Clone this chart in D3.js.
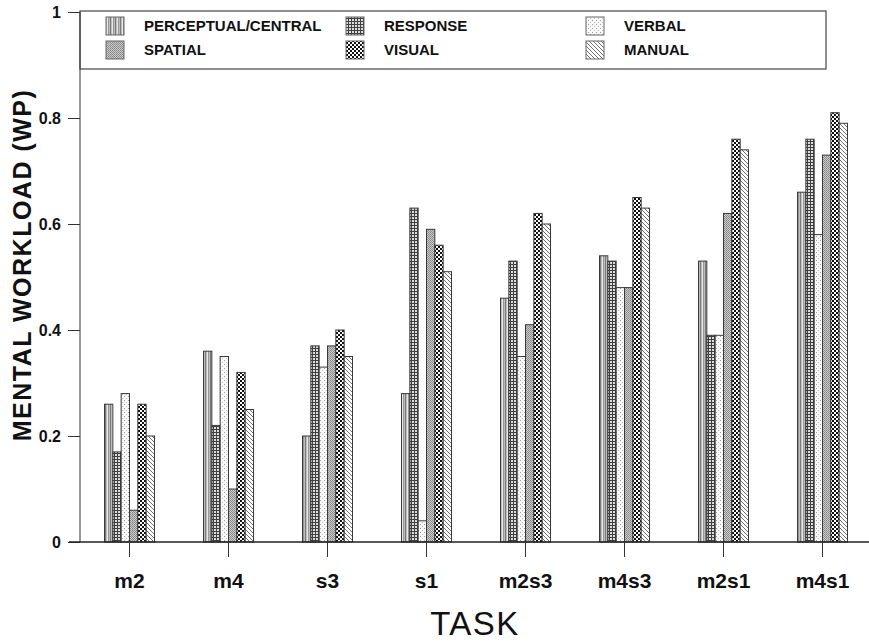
<!DOCTYPE html>
<html><head><meta charset="utf-8">
<script src="https://cdn.jsdelivr.net/npm/d3@7"></script>
<style>body{margin:0;background:#fff}svg{display:block}text{font-family:"Liberation Sans",Arial,sans-serif}</style>
</head><body><svg id="c" width="869" height="644"></svg>
<script>
const tasks = ["m2","m4","s3","s1","m2s3","m4s3","m2s1","m4s1"];
const seriesNames = ["PERCEPTUAL/CENTRAL","RESPONSE","VERBAL","SPATIAL","VISUAL","MANUAL"];
const perceptual = [0.26,0.36,0.20,0.28,0.46,0.54,0.53,0.66];
const response   = [0.17,0.22,0.37,0.63,0.53,0.53,0.39,0.76];
const verbal     = [0.28,0.35,0.33,0.04,0.35,0.48,0.39,0.58];
const spatial    = [0.06,0.10,0.37,0.59,0.41,0.48,0.62,0.73];
const visual     = [0.26,0.32,0.40,0.56,0.62,0.65,0.76,0.81];
const manual     = [0.20,0.25,0.35,0.51,0.60,0.63,0.74,0.79];
const yTicks = [0,0.2,0.4,0.6,0.8,1];
const yTickLabels = ["0","0.2","0.4","0.6","0.8","1"];
const values = [perceptual,response,verbal,spatial,visual,manual];

const svg = d3.select("#c");
const defs = svg.append("defs");
const patIds = ["pPer","pRes","pVer","pSpa","pVis","pMan"];
function pat(id,w,h){return defs.append("pattern").attr("id",id).attr("patternUnits","userSpaceOnUse").attr("width",w).attr("height",h);}
// perceptual: vertical stripes
let p = pat("pPer",5,5);
p.append("rect").attr("width",5).attr("height",5).attr("fill","#bdbdbd");
p.append("rect").attr("x",0).attr("width",1).attr("height",5).attr("fill","#7a7a7a");
p.append("rect").attr("x",2).attr("width",1).attr("height",5).attr("fill","#e8e8e8");
p.append("rect").attr("x",3).attr("width",1).attr("height",5).attr("fill","#969696");
// response: grid
p = pat("pRes",3,3);
p.append("rect").attr("width",3).attr("height",3).attr("fill","#dcdcdc");
p.append("rect").attr("width",1).attr("height",3).attr("fill","#404040");
p.append("rect").attr("width",3).attr("height",1).attr("fill","#404040");
// verbal: dots
p = pat("pVer",4,4);
p.append("rect").attr("width",4).attr("height",4).attr("fill","#f8f8f8");
p.append("rect").attr("x",0).attr("y",0).attr("width",1).attr("height",1).attr("fill","#a0a0a0");
p.append("rect").attr("x",2).attr("y",2).attr("width",1).attr("height",1).attr("fill","#c0c0c0");
// spatial: fine checker gray
p = pat("pSpa",2,2);
p.append("rect").attr("width",2).attr("height",2).attr("fill","#c8c8c8");
p.append("rect").attr("width",1).attr("height",1).attr("fill","#888");
p.append("rect").attr("x",1).attr("y",1).attr("width",1).attr("height",1).attr("fill","#949494");
// visual: black/white checker
p = pat("pVis",4,4);
p.append("rect").attr("width",4).attr("height",4).attr("fill","#fff");
p.append("rect").attr("width",2).attr("height",2).attr("fill","#111");
p.append("rect").attr("x",2).attr("y",2).attr("width",2).attr("height",2).attr("fill","#111");
// manual: diagonal lines
p = pat("pMan",4,4);
p.append("rect").attr("width",4).attr("height",4).attr("fill","#fff");
p.append("path").attr("d","M0,0L4,4M-1,3L1,5M3,-1L5,1").attr("stroke","#707070").attr("stroke-width",1);

const x0 = d3.scaleBand().domain(tasks).range([80,872]).padding(0);
const x1 = d3.scaleBand().domain(seriesNames).range([-25,25]).padding(0);
const y = d3.scaleLinear().domain([0,1]).range([542,12]);

// bars
const g = svg.append("g");
tasks.forEach((t,i)=>{
  const cx = x0(t)+x0.bandwidth()/2;
  seriesNames.forEach((s,j)=>{
    const v = values[j][i];
    g.append("rect")
      .attr("x",cx+x1(s)).attr("y",y(v))
      .attr("width",x1.bandwidth()).attr("height",y(0)-y(v))
      .attr("fill",`url(#${patIds[j]})`).attr("stroke","#3a3a3a").attr("stroke-width",1);
  });
});

// legend box
svg.append("rect").attr("x",80).attr("y",y(1)-1).attr("width",746).attr("height",58)
  .attr("fill","none").attr("stroke","#444").attr("stroke-width",1.2);
const legPos = [[106,17],[346,17],[586,17],[106,41],[346,41],[586,41]];
seriesNames.forEach((s,j)=>{
  const [lx,ly] = legPos[j];
  svg.append("rect").attr("x",lx).attr("y",ly).attr("width",18).attr("height",18)
    .attr("fill",`url(#${patIds[j]})`).attr("stroke","#666").attr("stroke-width",1);
  svg.append("text").attr("x",lx+38).attr("y",ly+14).attr("font-size",15).attr("font-weight","bold")
    .attr("fill","#111").text(s);
});

// y axis
const yAxis = d3.axisLeft(y).tickValues(yTicks).tickFormat((d,i)=>yTickLabels[i]).tickSize(12).tickPadding(7);
const ya = svg.append("g").attr("transform","translate(80,0)").call(yAxis);
ya.select(".domain").attr("stroke","#333").attr("d","M0,12V542");
ya.selectAll(".tick line").attr("stroke","#333");
ya.selectAll("text").attr("font-size",16).attr("font-weight","bold").attr("fill","#111").attr("font-family","Liberation Sans, Arial, sans-serif");

// x axis
const xAxis = d3.axisBottom(x0).tickSize(15).tickPadding(16);
const xa = svg.append("g").attr("transform","translate(0,542)").call(xAxis);
xa.select(".domain").attr("stroke","#222").attr("stroke-width",1.3).attr("d","M69,0H869");
xa.selectAll(".tick line").attr("stroke","#333");
xa.selectAll("text").attr("font-size",21).attr("font-weight","bold").attr("fill","#111").attr("font-family","Liberation Sans, Arial, sans-serif");

// titles
svg.append("text").attr("transform","translate(31,265) rotate(-90)").attr("text-anchor","middle")
  .attr("font-size",25).attr("font-weight","bold").attr("letter-spacing",1.5).attr("fill","#111").text("MENTAL WORKLOAD (WP)");
svg.append("text").attr("x",475).attr("y",635).attr("text-anchor","middle")
  .attr("font-size",33).attr("fill","#111").attr("letter-spacing",1.5).text("TASK");
</script></body></html>
